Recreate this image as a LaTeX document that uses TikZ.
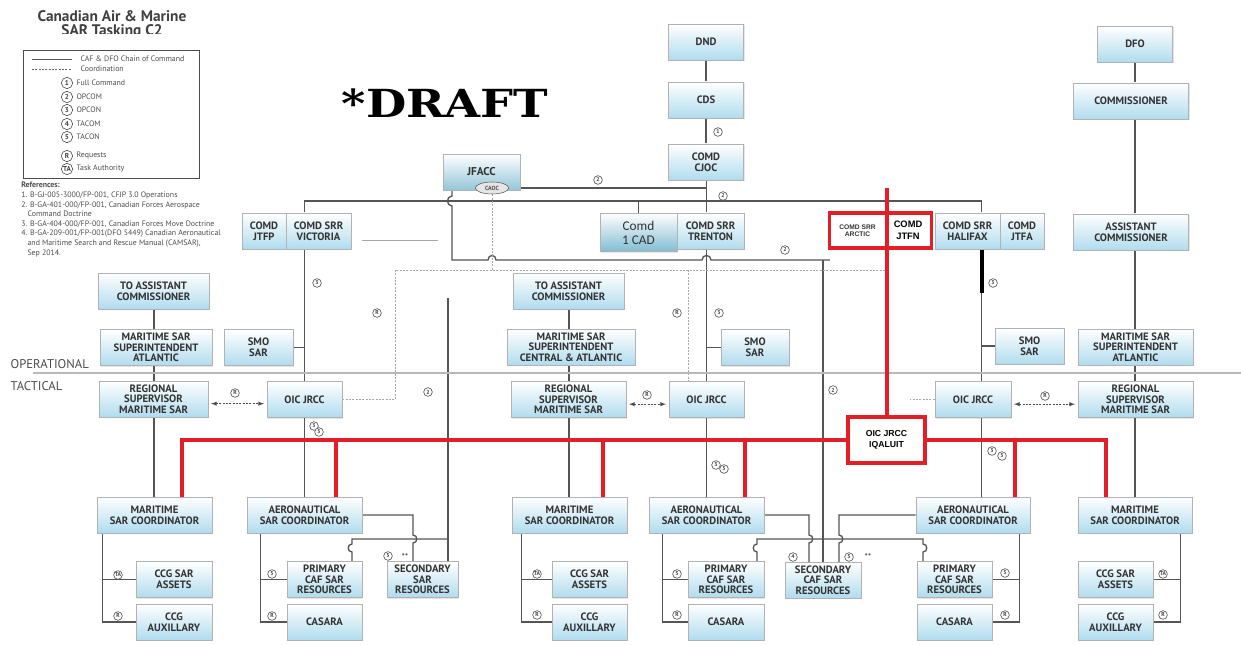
\documentclass[tikz,border=0pt]{standalone}
\usepackage{fontspec}
\usepackage{graphicx}
\setsansfont{PT Sans}
\newfontfamily\draftfont{DejaVu Serif}
\newfontfamily\arialfont{Liberation Sans}
\newfontfamily\calfont{Carlito}
\usetikzlibrary{positioning,shadows,backgrounds,shapes.geometric}

\definecolor{boxblue}{RGB}{176,220,238}
\definecolor{cadblue}{RGB}{128,188,210}
\definecolor{linegray}{RGB}{85,85,85}
\definecolor{sarred}{RGB}{228,30,38}

\tikzset{
  box/.style={draw=gray!60, line width=0.5pt, top color=white, bottom color=boxblue,
    minimum height=27pt, inner sep=0.5pt, align=center, text=black!80,
    font=\sffamily\bfseries\fontsize{8}{8}\selectfont,
    drop shadow={opacity=0.2, shadow xshift=0.8pt, shadow yshift=-0.8pt}},
  wd/.style={minimum width=#1*0.75pt},
  cmd/.style={draw=linegray, line width=1pt},
  coordline/.style={draw=gray!70, line width=0.5pt, dash pattern=on 1.5pt off 1pt},
  reqarrow/.style={coordline, draw=black!70, <->, >=latex, shorten <=2pt, shorten >=2pt},
  redline/.style={draw=sarred, line width=3pt},
  tag/.style={circle, draw=black!70, fill=white, line width=0.45pt, inner sep=0pt,
    minimum size=6.5pt, font=\sffamily\bfseries\fontsize{4.2}{4}\selectfont, text=black!75},
  legtag/.style={tag, minimum size=8.5pt, font=\sffamily\bfseries\fontsize{5.3}{5}\selectfont},
  legtext/.style={font=\sffamily\fontsize{5.9}{6}\selectfont, text=black!70, inner sep=1pt},
  titletext/.style={font=\sffamily\bfseries\fontsize{11.5}{9}\selectfont, text=black!75, inner sep=0pt},
}

\begin{document}
\begin{tikzpicture}[x=0.75pt, y=-0.75pt]
\useasboundingbox (0,0) rectangle (1241,645);

% title, legend and references
\begin{scope}
  \clip (0,0) rectangle (240,34);
  \node[titletext] (title) at (112,16.5) {Canadian Air \& Marine};
  \node[titletext] (subtitle) at (112,32) {SAR Tasking C2};
\end{scope}
\node[draw=black!70, line width=0.7pt, minimum width=132pt, minimum height=96pt] (legend) at (111,114) {};
\coordinate (lsA) at (32,59);
\coordinate (lsB) at (72,59);
\coordinate (ldA) at (32,69);
\coordinate (ldB) at (72,69);
\draw[linegray, line width=0.5pt] (lsA) -- (lsB);
\draw[coordline, draw=black!60] (ldA) -- (ldB);
\node[legtext, anchor=west] (legcmd) at (79,59) {CAF \& DFO Chain of Command};
\node[legtext, anchor=west] (legcoord) at (79,69) {Coordination};
\foreach \t/\lab/\y [count=\i] in {1/Full Command/83, 2/OPCOM/97, 3/OPCON/110, 4/TACOM/124, 5/TACON/137, R/Requests/156, TA/Task Authority/169} {
  \node[legtag] (lt\i) at (67,\y) {\t};
  \node[legtext, right=1.5pt of lt\i] (ll\i) {\lab};
}
\node[font=\sffamily\fontsize{5.9}{7.2}\selectfont, text=black!70, align=left, anchor=north west, inner sep=0pt] (refs) at (21,182) {\textbf{References:}\\
1. B-GJ-005-3000/FP-001, CFJP 3.0 Operations\\
2. B-GA-401-000/FP-001, Canadian Forces Aerospace\\
\hspace*{0.8em}Command Doctrine\\
3. B-GA-404-000/FP-001, Canadian Forces Move Doctrine\\
4. B-GA-209-001/FP-001(DFO 5449) Canadian Aeronautical\\
\hspace*{0.8em}and Maritime Search and Rescue Manual (CAMSAR),\\
\hspace*{0.8em}Sep 2014.};

\node[font=\draftfont\bfseries\fontsize{29}{29}\selectfont, text=black] (draft) at (445,103) {\scalebox{1.2}[1]{*DRAFT}};

\node[font=\sffamily\fontsize{9.5}{10}\selectfont, text=black!70, anchor=west] (oplabel) at (6,364) {OPERATIONAL};
\node[font=\sffamily\fontsize{9.5}{10}\selectfont, text=black!70, anchor=west] (tclabel) at (6,386) {TACTICAL};

% strategic level
\node[box, wd=75] (dnd) at (706,42) {DND};
\node[box, wd=75] (cds) at (706,100) {CDS};
\node[box, wd=75] (cjoc) at (706,162) {COMD\\CJOC};
\node[box, wd=75] (dfo) at (1135,44) {DFO};
\node[box, wd=115] (comm) at (1131,101) {COMMISSIONER};
\node[box, wd=115] (acomm) at (1131,232) {ASSISTANT\\COMMISSIONER};
\node[box, wd=77, bottom color=cadblue!85, font=\sffamily\bfseries\fontsize{8.5}{8}\selectfont] (jfacc) at (481.5,172) {JFACC};
\node[ellipse, draw=gray!70!black, fill=gray!20, minimum width=25pt, minimum height=9pt, inner sep=0pt, font=\sffamily\bfseries\fontsize{4.5}{4}\selectfont, text=black!70] (caoc) at (492,188) {CAOC};

% commands
\node[box, wd=44] (jtfp) at (264,231) {COMD\\JTFP};
\node[box, wd=65] (vic) at (318.5,231) {COMD SRR\\VICTORIA};
\node[box, wd=77, minimum height=29pt, bottom color=cadblue, font=\calfont\fontsize{10}{10.5}\selectfont] (cad) at (638.5,232.5) {Comd\\1 CAD};
\node[box, wd=67] (tren) at (710.5,231) {COMD SRR\\TRENTON};
\node[fill=white, wd=55, minimum height=26pt, align=center, inner sep=0pt, font=\arialfont\bfseries\fontsize{5}{5.5}\selectfont, text=black!80] (arc) at (857.5,230.5) {COMD SRR\\ARCTIC};
\node[fill=white, wd=46, minimum height=26pt, align=center, inner sep=0pt, font=\arialfont\bfseries\fontsize{7}{9}\selectfont] (jtfn) at (908,230.5) {COMD\\JTFN};
\node[box, wd=65] (hal) at (967.5,231) {COMD SRR\\HALIFAX};
\node[box, wd=44] (jtfa) at (1022,231) {COMD\\JTFA};

% operational / tactical, left
\node[box, wd=111] (toaL) at (153.5,291) {TO ASSISTANT\\COMMISSIONER};
\node[box, wd=112] (mssL) at (156,347.5) {MARITIME SAR\\SUPERINTENDENT\\ATLANTIC};
\node[box, wd=69] (smoL) at (258.5,347.5) {SMO\\SAR};
\node[box, wd=109] (regL) at (153.5,399) {REGIONAL\\SUPERVISOR\\MARITIME SAR};
\node[box, wd=75] (oicL) at (304.5,399.5) {OIC JRCC};

% centre
\node[box, wd=111] (toaM) at (568.5,291) {TO ASSISTANT\\COMMISSIONER};
\node[box, wd=128] (mssM) at (571,347) {MARITIME SAR\\SUPERINTENDENT\\CENTRAL \& ATLANTIC};
\node[box, wd=68] (smoM) at (755,347.5) {SMO\\SAR};
\node[box, wd=115] (regM) at (568.5,399.5) {REGIONAL\\SUPERVISOR\\MARITIME SAR};
\node[box, wd=75] (oicM) at (706.5,399.5) {OIC JRCC};

% right
\node[box, wd=69] (smoR) at (1029.5,346) {SMO\\SAR};
\node[box, wd=115] (mssR) at (1135.5,347) {MARITIME SAR\\SUPERINTENDENT\\ATLANTIC};
\node[box, wd=76] (oicR) at (973,399.5) {OIC JRCC};
\node[box, wd=115] (regR) at (1135.5,399.5) {REGIONAL\\SUPERVISOR\\MARITIME SAR};
\node[draw=sarred, line width=3pt, fill=white, wd=77, minimum height=34.5pt, align=center, font=\arialfont\bfseries\fontsize{6.5}{8}\selectfont] (iq) at (886.5,440) {OIC JRCC\\IQALUIT};

% coordinators and resources
\node[box, wd=115] (mscL) at (154.5,515) {MARITIME\\SAR COORDINATOR};
\node[box, wd=115] (ascL) at (304.5,515) {AERONAUTICAL\\SAR COORDINATOR};
\node[box, wd=76] (ccgaL) at (174,579.5) {CCG SAR\\ASSETS};
\node[box, wd=76] (ccgxL) at (174,622) {CCG\\AUXILLARY};
\node[box, wd=75] (primL) at (324.5,579.5) {PRIMARY\\CAF SAR\\RESOURCES};
\node[box, wd=75] (casL) at (324.5,622) {CASARA};
\node[box, wd=71] (secL) at (422.5,579.5) {SECONDARY\\SAR\\RESOURCES};

\node[box, wd=115] (mscM) at (569.5,515) {MARITIME\\SAR COORDINATOR};
\node[box, wd=115] (ascM) at (706.5,515) {AERONAUTICAL\\SAR COORDINATOR};
\node[box, wd=75] (ccgaM) at (589.5,579.5) {CCG SAR\\ASSETS};
\node[box, wd=75] (ccgxM) at (589.5,622) {CCG\\AUXILLARY};
\node[box, wd=76] (primM) at (726,579.5) {PRIMARY\\CAF SAR\\RESOURCES};
\node[box, wd=76] (casM) at (726,622) {CASARA};
\node[box, wd=76] (secM) at (823,580) {SECONDARY\\CAF SAR\\RESOURCES};

\node[box, wd=114] (ascR) at (973,515) {AERONAUTICAL\\SAR COORDINATOR};
\node[box, wd=114] (mscR) at (1135,515) {MARITIME\\SAR COORDINATOR};
\node[box, wd=75] (primR) at (954.5,579.5) {PRIMARY\\CAF SAR\\RESOURCES};
\node[box, wd=75] (casR) at (954.5,622) {CASARA};
\node[box, wd=75] (ccgaR) at (1115.5,579.5) {CCG SAR\\ASSETS};
\node[box, wd=75] (ccgxR) at (1115.5,622) {CCG\\AUXILLARY};

% columns and rows of the connectors
\coordinate (cL) at (154,0);
\coordinate (cV) at (304.5,0);
\coordinate (cJ) at (452,0);
\coordinate (cJ2) at (448,0);
\coordinate (cM) at (569,0);
\coordinate (cT) at (706.5,0);
\coordinate (cS) at (823,0);
\coordinate (cH) at (981.5,0);
\coordinate (cR) at (1135,0);
\coordinate (top2) at (0,201);
\coordinate (dotrow) at (0,270);
\coordinate (opW) at (33,373);
\coordinate (opE) at (1241,373);

\begin{scope}[on background layer]
  % chain of command
  \draw[cmd] (dnd) -- (cds);
  \draw[cmd] (cds) -- (cjoc);
  \draw[cmd] (cjoc.south -| cT) -- (ascM.north -| cT);
  \draw[cmd] (dfo.south -| cR) -- (mscR.north -| cR);
  \draw[cmd] (jfacc.east |- caoc) -- (caoc -| cT);
  \draw[cmd] (vic.north -| cV) -- (top2 -| cV) -- (top2 -| cH) -- (hal.north -| cH);
  \draw[cmd] (cad.north) -- (cad.north |- top2);
  \draw[cmd] (jfacc.south -| cJ) -- (452,196) .. controls (446,196) and (446,206) .. (452,206)
    -- (452,260) -- (488,260) .. controls (488,254) and (496,254) .. (496,260)
    -- (702,260) .. controls (702,254) and (711,254) .. (711,260) -- (830,260);
  \draw[cmd] (823,260) -- (secM.north -| cS);
  \draw[cmd] (448,298) -- (secL.north -| cJ2);
  \draw[cmd] (vic.south -| cV) -- (ascL.north -| cV);
  \draw[cmd] (smoL) -- (smoL -| cV);
  \draw[cmd] (toaL.south -| cL) -- (mscL.north -| cL);
  \draw[cmd] (toaM.south -| cM) -- (mscM.north -| cM);
  \draw[cmd] (smoM) -- (smoM -| cT);
  \draw[cmd] (hal.south -| cH) -- (ascR.north -| cH);
  \draw[black, line width=3pt] (hal.south -| cH) -- ++(0,44);
  \draw[cmd] (smoR) -- (smoR -| cH);
  % resources
  \draw[cmd] (ascL.east) -| (413,535) .. controls (418,535) and (418,543) .. (413,543) -- (413,561.5);
  \draw[cmd] (448,539) -- (352,539) -- (352,544) .. controls (347,544) and (347,552) .. (352,552) -- (352,561.5);
  \draw[cmd] (ascM.east) -| (809,535) .. controls (814,535) and (814,543) .. (809,543) -- (809,562);
  \draw[cmd] (ascR.west) -| (839,535) .. controls (844,535) and (844,543) .. (839,543) -- (839,562);
  \draw[cmd] (757,561.5) -- (757,552) .. controls (752,552) and (752,544) .. (757,544) -- (757,539)
    -- (923,539) -- (923,544) .. controls (928,544) and (928,552) .. (923,552) -- (923,561.5);
  \draw[cmd] ([xshift=4.5pt]mscL.south west) |- (ccgxL.west) ([xshift=4.5pt]mscL.south west) |- (ccgaL.west);
  \draw[cmd] ([xshift=10.5pt]ascL.south west) |- (casL.west) ([xshift=10.5pt]ascL.south west) |- (primL.west);
  \draw[cmd] ([xshift=7.5pt]mscM.south west) |- (ccgxM.west) ([xshift=7.5pt]mscM.south west) |- (ccgaM.west);
  \draw[cmd] ([xshift=10.5pt]ascM.south west) |- (casM.west) ([xshift=10.5pt]ascM.south west) |- (primM.west);
  \draw[cmd] ([xshift=-8.25pt]ascR.south east) |- (casR.east) ([xshift=-8.25pt]ascR.south east) |- (primR.east);
  \draw[cmd] ([xshift=-9pt]mscR.south east) |- (ccgxR.east) ([xshift=-9pt]mscR.south east) |- (ccgaR.east);
  % coordination
  \draw[coordline] (oicL.east) -| (395,270) -- (888,270) -- (888,375);
  \draw[coordline] (caoc.south) -- (caoc.south |- dotrow);
  \draw[coordline] (688,270) -- (688,381.5);
  \draw[coordline] (oicR.west) -- ++(-25,0);
  \draw[reqarrow] ([yshift=-3.5pt]regL.east) -- ([yshift=-3.5pt]regL.east -| oicL.west);
  \draw[reqarrow] ([yshift=-3.5pt]regM.east) -- ([yshift=-3.5pt]regM.east -| oicM.west);
  \draw[reqarrow] ([yshift=-3.5pt]oicR.east) -- ([yshift=-3.5pt]oicR.east -| regR.west);
  % levels
  \draw[gray!55, line width=2.2pt] (opW) -- (opE);
  \draw[gray!70, line width=0.6pt] (362,240) -- (438,240);
  \draw[gray!70, line width=0.4pt] (840,240) -- (928,240);
\end{scope}

% Iqaluit tasking
\draw[sarred, line width=2.5pt] (arc.north west) rectangle (jtfn.south east);
\draw[redline] (iq.north) -- ++(0,-227);
\draw[redline] (iq.west) -| ([xshift=20.6pt]mscL.north);
\draw[redline] ([xshift=23.6pt]ascL.north) |- (iq.west);
\draw[redline] ([xshift=25.1pt]mscM.north) |- (iq.west);
\draw[redline] ([xshift=28.9pt]ascM.north) |- (iq.west);
\draw[redline] (iq.east) -| ([xshift=-21.75pt]mscR.north);
\draw[redline] ([xshift=31.5pt]ascR.north) |- (iq.east);

% relationship tags
\foreach \x/\y/\t [count=\i] in {718/132/1, 598/180/2, 723/196/2, 317/283/3, 377/313/R, 677/313/R,
    719/313/3, 993/283/3, 785/250/2, 428/392/2, 833/390/2, 235/393/R, 647/395/R, 1045/396/R,
    314/426/3, 319/432/5, 716/465/3, 724/469/5, 992/451/3, 1002/456/5,
    118/575/TA, 118/616/R, 272/574/5, 272/616/R, 388/556/5, 537/574/TA, 537/615/R,
    677/574/5, 677/615/R, 793/557/4, 849/557/5, 1005/573/5, 1005/615/R, 1163/574/TA, 1163/615/R} {
  \node[tag] (tag\i) at (\x,\y) {\t};
}
\node[font=\sffamily\bfseries\fontsize{6}{6}\selectfont, text=black!70] (astL) at (405,557) {**};
\node[font=\sffamily\bfseries\fontsize{6}{6}\selectfont, text=black!70] (astM) at (868,557) {**};
\end{tikzpicture}
\end{document}
